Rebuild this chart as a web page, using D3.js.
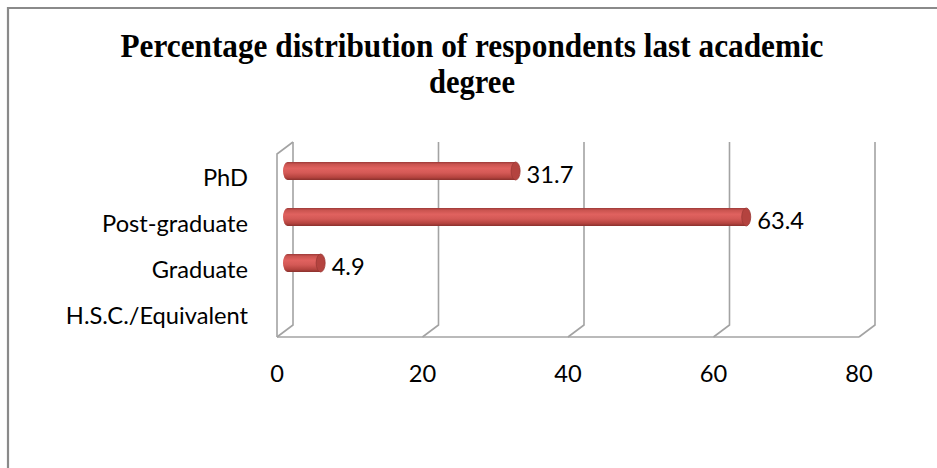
<!DOCTYPE html>
<html><head><meta charset="utf-8">
<script src="https://cdn.jsdelivr.net/npm/d3@7"></script>
<style>html,body{margin:0;padding:0;background:#fff;overflow:hidden}</style>
</head><body>
<svg id="c" width="937" height="468"></svg>
<script>
const categories = ["PhD", "Post-graduate", "Graduate", "H.S.C./Equivalent"];
const values = [31.7, 63.4, 4.9, null];
const ticks = [0, 20, 40, 60, 80];
const titleLines = ["Percentage distribution of respondents last academic", "degree"];

const svg = d3.select("#c");
const W = 937, H = 468;
const dx = 16, dy = -12;          // depth offset (front -> back)
const floorY = 337, topY = 154;   // front plane vertical extent

const x = d3.scaleLinear().domain([0, 80]).range([277, 859]);
const y = d3.scaleBand().domain(categories).range([155, 339]).padding(0);

// outer border
svg.append("path").attr("d", `M8,${H+5} L8,8 L${W+5},8`).attr("fill","none")
  .attr("stroke","#8a8a8a").attr("stroke-width",2.2);

// title
const title = svg.append("g");
const titleLen = [703, 86];
titleLines.forEach((t,i)=>{
  title.append("text").attr("x",472).attr("y", i===0?57:93)
    .attr("text-anchor","middle").attr("font-family","Liberation Serif, Times New Roman, serif")
    .attr("font-weight","bold").attr("font-size",33).attr("fill","#000")
    .attr("textLength",titleLen[i]).attr("lengthAdjust","spacingAndGlyphs").text(t);
});

// grid / walls
const grid = svg.append("g").attr("fill","none").attr("stroke","#a3a3a3").attr("stroke-width",1.6);
grid.append("line").attr("x1",x(0)).attr("x2",x(80)).attr("y1",floorY).attr("y2",floorY);
ticks.forEach(t=>{
  const fx = x(t);
  grid.append("path").attr("d",`M${fx},${floorY} L${fx+dx},${floorY+dy} L${fx+dx},${topY+dy}`);
});
grid.append("path").attr("d",`M${x(0)},${floorY} L${x(0)},${topY} L${x(0)+dx},${topY+dy}`);

// gradient
const defs = svg.append("defs");
const g = defs.append("linearGradient").attr("id","barg").attr("x1",0).attr("y1",0).attr("x2",0).attr("y2",1);
[[0,"#9c3a38"],[0.12,"#c9534f"],[0.35,"#e0625f"],[0.6,"#d45956"],[0.85,"#b5443f"],[1,"#8a302d"]]
  .forEach(([o,c])=>g.append("stop").attr("offset",o).attr("stop-color",c));

const bh = 18, rx = 4.5;
const bars = svg.append("g");
categories.forEach((c,i)=>{
  const v = values[i];
  if(v==null) return;
  const cy = y(c) + y.bandwidth()/2 + dy/2 - 1;
  const x0 = x(0) + dx/2 - 2, x1 = x(v) + dx/2;
  const top = cy - bh/2, bot = cy + bh/2;
  bars.append("path")
    .attr("d",`M${x0+rx},${top} L${x1},${top} L${x1},${bot} L${x0+rx},${bot} A${rx},${bh/2} 0 0 1 ${x0+rx},${top} Z`)
    .attr("fill","url(#barg)");
  bars.append("ellipse").attr("cx",x1).attr("cy",cy).attr("rx",rx).attr("ry",bh/2)
    .attr("fill","#b4433f").attr("stroke","#9a3835").attr("stroke-width",0.8);
});

// fit sans font
const font = "Lato, 'Open Sans', sans-serif";
const probe = svg.append("text").attr("font-family",font).attr("font-size",20).text("Post-graduate");
const fs = 20 * 146 / probe.node().getComputedTextLength();
probe.remove();

svg.append("g").selectAll("text").data(categories).join("text")
  .attr("x",248).attr("y",d=>y(d)+y.bandwidth()/2+8)
  .attr("text-anchor","end").attr("font-family",font).attr("font-size",fs).attr("fill","#000")
  .text(d=>d);

svg.append("g").selectAll("text").data(categories.filter((c,i)=>values[i]!=null)).join("text")
  .attr("x",d=>x(values[categories.indexOf(d)])+dx/2+11)
  .attr("y",d=>y(d)+y.bandwidth()/2+4.5)
  .attr("font-family",font).attr("font-size",fs).attr("fill","#000")
  .text(d=>values[categories.indexOf(d)]);

svg.append("g").selectAll("text").data(ticks).join("text")
  .attr("x",d=>x(d)).attr("y",382)
  .attr("text-anchor","middle").attr("font-family",font).attr("font-size",fs).attr("fill","#000")
  .text(d=>d);
</script>
</body></html>
